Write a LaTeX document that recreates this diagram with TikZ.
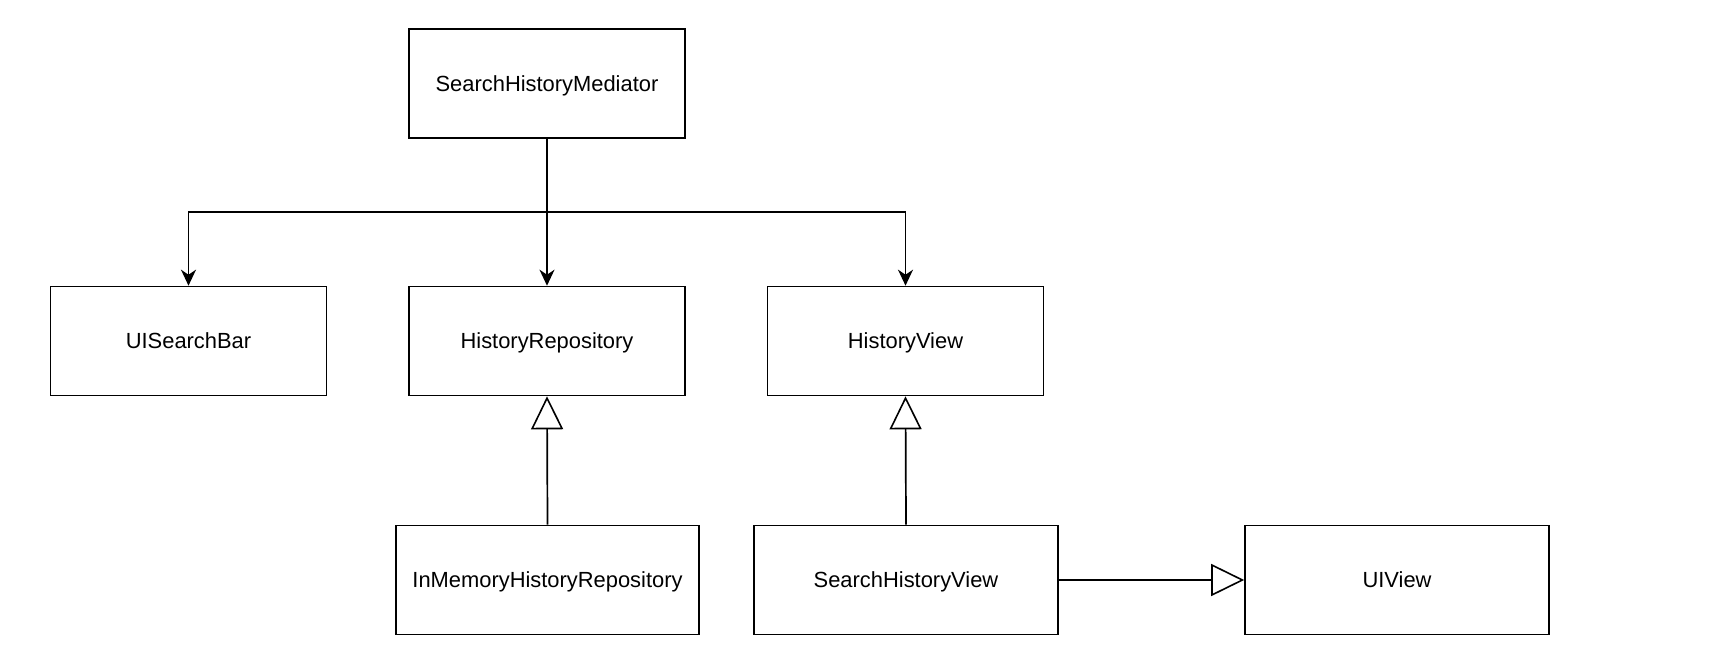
\documentclass[tikz,border=0pt]{standalone}
\usepackage{fontspec}
\setmainfont{Liberation Sans}
\usetikzlibrary{arrows.meta}
\begin{document}
\begin{tikzpicture}[x=1pt,y=-1pt,
  cls/.style={draw, line width=1.6pt, minimum height=109pt, inner sep=0pt, text height=15.7pt, text depth=-1pt, font=\fontsize{21.9}{26}\selectfont},
  assoc/.style={line width=1.7pt, -{Stealth[length=16pt,width=15pt,inset=5pt]}},
  inherit/.style={line width=1.7pt, -{Triangle[open,length=33pt,width=32pt,line width=1.6pt]}}]
\useasboundingbox (0,0) rectangle (1716,670);
\node[cls, minimum width=276pt] (med) at (547,83.5) {SearchHistoryMediator};
\node[cls, minimum width=276pt] (bar) at (188.5,341) {UISearchBar};
\node[cls, minimum width=276pt] (repo) at (547,341) {HistoryRepository};
\node[cls, minimum width=276pt] (hv) at (905.5,341) {HistoryView};
\node[cls, minimum width=303pt] (inmem) at (547.5,580) {InMemoryHistoryRepository};
\node[cls, minimum width=304pt] (shv) at (906,580) {SearchHistoryView};
\node[cls, minimum width=304pt] (uiv) at (1397,580) {UIView};
\coordinate (j) at (547,212);
\draw[assoc] (med.south) -- (repo.north);
\draw[assoc] (j) -| (bar.north);
\draw[assoc] (j) -| (hv.north);
\draw[inherit] (inmem.north) -- (repo.south);
\draw[inherit] (shv.north) -- (hv.south);
\draw[inherit] (shv.east) -- (uiv.west);
\end{tikzpicture}
\end{document}
